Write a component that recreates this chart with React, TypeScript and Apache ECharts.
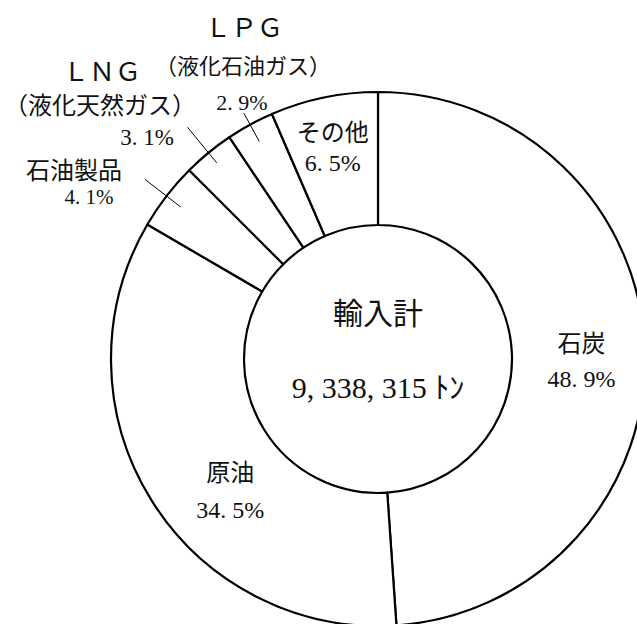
import React, { useEffect, useRef } from "react";
import * as echarts from "echarts";

const categories = ["石炭", "原油", "石油製品", "ＬＮＧ", "ＬＰＧ", "その他"];
const shares = [48.9, 34.5, 4.1, 3.1, 2.9, 6.5];
const pctLabels = ["48. 9%", "34. 5%", "4. 1%", "3. 1%", "2. 9%", "6. 5%"];
const subLabels = ["", "", "", "（液化天然ガス）", "（液化石油ガス）", ""];
const totalTitle = "輸入計";
const totalValue = "9, 338, 315 ﾄﾝ";

const FONT = "'Liberation Serif', 'Noto Sans CJK JP', serif";
const CX = 378;
const CY = 359;
const R0 = 134;
const R1 = 267;

export default function App() {
  const ref = useRef<HTMLDivElement>(null);

  useEffect(() => {
    if (!ref.current) return;
    const chart = echarts.init(ref.current, undefined, { renderer: "svg" });
    const total = shares.reduce((a, b) => a + b, 0);
    const cum: number[] = [];
    let acc = 0;
    shares.forEach((v) => {
      cum.push(acc + v / 2);
      acc += v;
    });
    const polar = (frac: number, r: number) => {
      const t = frac * Math.PI * 2;
      return [CX + r * Math.sin(t), CY - r * Math.cos(t)];
    };
    const leader = (i: number, ra: number, rb: number) => {
      const f = cum[i] / total;
      const [x1, y1] = polar(f, ra);
      const [x2, y2] = polar(f, rb);
      return {
        type: "line",
        shape: { x1, y1, x2, y2 },
        style: { stroke: "#000", lineWidth: 1 },
        z: 100,
      };
    };
    const txt = (text: string, x: number, y: number, size: number) => ({
      type: "text",
      x,
      y,
      style: {
        text,
        fill: "#111",
        font: `${size}px ${FONT}`,
        align: "center",
        verticalAlign: "middle",
      },
      z: 100,
    });

    const insideIdx: Record<number, { offset: number[]; lh: number }> = {
      0: { offset: [0, 10], lh: 35 },
      1: { offset: [25, 25], lh: 37 },
      5: { offset: [-4, -12], lh: 30 },
    };

    const data = categories.map((name, i) => {
      const ins = insideIdx[i];
      return {
        name,
        value: shares[i],
        label: ins
          ? {
              show: true,
              position: "inside",
              formatter: `${name}\n${pctLabels[i]}`,
              fontFamily: FONT,
              fontSize: 24,
              lineHeight: ins.lh,
              color: "#111",
              offset: ins.offset,
            }
          : { show: false },
      };
    });

    chart.setOption({
      animation: false,
      backgroundColor: "#fff",
      series: [
        {
          type: "pie",
          center: [CX, CY],
          radius: [R0, R1],
          startAngle: 90,
          clockwise: true,
          avoidLabelOverlap: false,
          silent: true,
          itemStyle: { color: "#fff", borderColor: "#000", borderWidth: 2.2 },
          labelLine: { show: false },
          emphasis: { disabled: true },
          data,
        },
      ],
      graphic: [
        txt(totalTitle, CX, 313, 30),
        txt(totalValue, CX, 387, 30),
        txt(categories[4], 244, 28, 26),
        txt(subLabels[4], 243, 66, 22),
        txt(pctLabels[4], 242, 102, 22),
        txt(categories[3], 102, 72, 26),
        txt(subLabels[3], 100, 106, 24),
        txt(pctLabels[3], 147, 137, 23),
        txt(categories[2], 74, 171, 24),
        txt(pctLabels[2], 89, 197, 21),
        leader(2, 249, 294),
        leader(3, 254, 300),
        leader(4, 248, 280),
      ],
    });
    return () => chart.dispose();
  }, []);

  return (
    <div
      ref={ref}
      style={{ position: "fixed", left: 0, top: 0, width: 637, height: 624 }}
    />
  );
}
